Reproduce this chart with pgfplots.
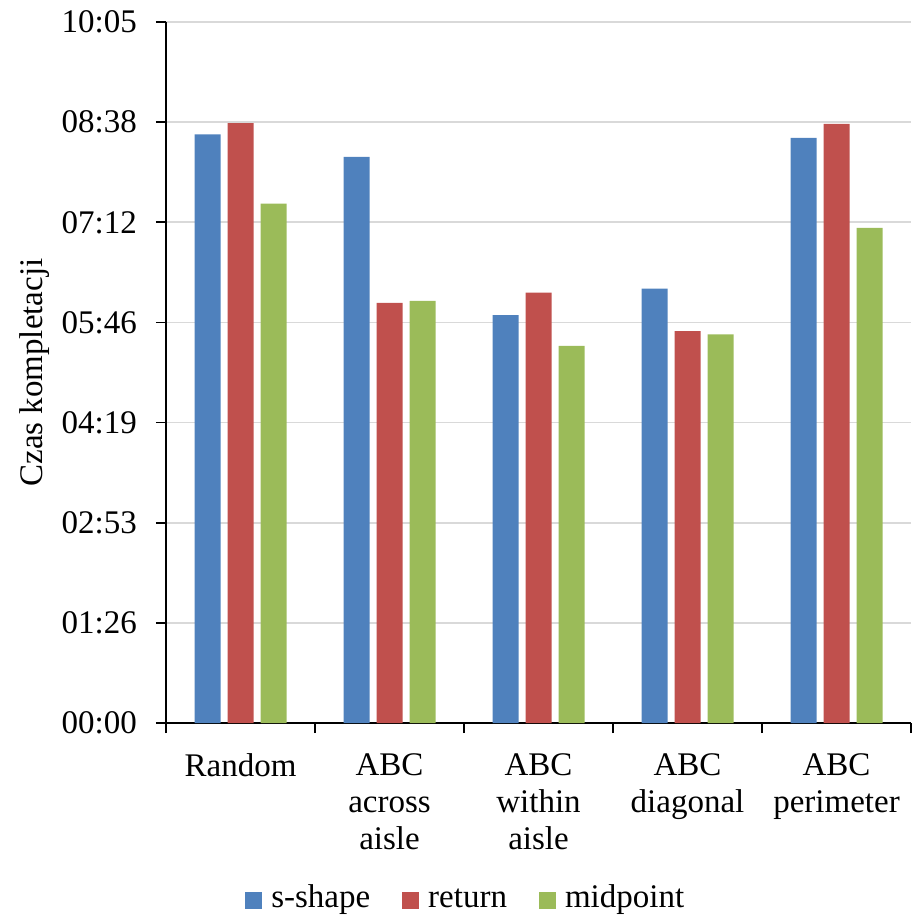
\documentclass[border=0pt]{standalone}
\usepackage{pgfplots}
\pgfplotsset{compat=1.18}
\usepackage{fontspec}
\setmainfont{Liberation Serif}
\definecolor{cblue}{HTML}{4F81BD}
\definecolor{cred}{HTML}{C0504D}
\definecolor{cgreen}{HTML}{9BBB59}
\definecolor{cgrid}{HTML}{D9D9D9}
\begin{document}
\fontsize{33}{37}\selectfont
\begin{tikzpicture}
\begin{axis}[
  scale only axis,
  width=745pt, height=701pt,
  xmin=-0.5, xmax=4.5,
  ymin=0, ymax=7,
  axis lines*=left,
  axis line style={line width=1.6pt},
  tick style={line width=1.6pt, black},
  major tick length=10pt,
  tick align=outside,
  xtick={-0.5,0.5,1.5,2.5,3.5,4.5},
  xticklabels={},
  extra x ticks={0,1,2,3,4},
  extra x tick labels={Random,ABC\\across\\aisle,ABC\\within\\aisle,ABC\\diagonal,ABC\\perimeter},
  extra x tick style={major tick length=0pt, grid=none,
    xticklabel style={align=center, anchor=north, yshift=-19pt, font=\fontsize{33}{37}\selectfont}},
  ytick={0,1,2,3,4,5,6,7},
  yticklabels={00:00,01:26,02:53,04:19,05:46,07:12,08:38,10:05},
  yticklabel style={font=\fontsize{33}{37}\selectfont, xshift=-8pt},
  /pgf/number format/assume math mode=true,
  ymajorgrids,
  grid style={cgrid, line width=1.6pt},
  ylabel={Czas kompletacji},
  ylabel style={font=\fontsize{33}{37}\selectfont},
  ylabel shift=-10pt,
  ybar=7pt,
  bar width=26pt,
  legend style={draw=none, at={(0.401,-0.2525)}, anchor=center,
    font=\fontsize{33}{37}\selectfont, legend columns=-1,
    nodes={text height=23pt, text depth=8pt, inner sep=0pt},
    /tikz/every odd column/.append style={column sep=9pt},
    /tikz/every even column/.append style={column sep=32pt},
    legend cell align=left, inner sep=0pt},
  legend image code/.code={\fill[#1] (0pt,-8.5pt) rectangle (17pt,8.5pt);},
  clip=false,
]
\addplot[fill=cblue, draw=none] coordinates {(0,5.879) (1,5.652) (2,4.074) (3,4.337) (4,5.842)};
\addplot[fill=cred, draw=none] coordinates {(0,5.989) (1,4.194) (2,4.297) (3,3.914) (4,5.982)};
\addplot[fill=cgreen, draw=none] coordinates {(0,5.186) (1,4.214) (2,3.765) (3,3.881) (4,4.943)};
\legend{s-shape,return,midpoint}
\coordinate (bl) at (rel axis cs:0,0);
\coordinate (tr) at (rel axis cs:1,1);
\end{axis}
\pgfresetboundingbox
\path[use as bounding box] ([xshift=-166pt,yshift=-192pt]bl) rectangle ([xshift=2pt,yshift=22pt]tr);
\end{tikzpicture}
\end{document}
